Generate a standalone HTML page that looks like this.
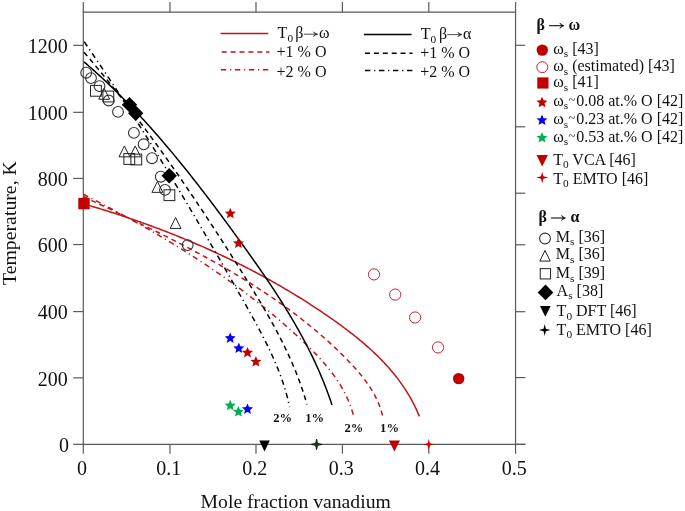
<!DOCTYPE html>
<html><head><meta charset="utf-8"><style>
html,body{margin:0;padding:0;background:#fff;}
svg{display:block;filter:blur(0.3px);}
text{font-family:"Liberation Serif",serif;fill:#111;}
.t19{font-size:20px;}
.t20{font-size:19.7px;}
.t20y{font-size:19.8px;}
.t15{font-size:16px;}
.b15{font-size:16px;font-weight:bold;}
.it{font-style:italic;}
.b12{font-size:12.6px;font-weight:bold;}
.sub{font-size:11.3px;}
</style></head><body>
<svg width="685" height="511" viewBox="0 0 685 511">
<path d="M83.3,12.15 H515.56 V444.33 H83.3 Z" fill="none" stroke="#5a5a5a" stroke-width="1.2"/>
<line x1="515.56" y1="444.33" x2="525.5" y2="444.33" stroke="#5a5a5a" stroke-width="1.2"/>
<line x1="83.30" y1="444.33" x2="83.30" y2="453.8" stroke="#5a5a5a" stroke-width="1.2"/>
<line x1="83.30" y1="12.15" x2="83.30" y2="2" stroke="#5a5a5a" stroke-width="1.2"/>
<line x1="169.96" y1="444.33" x2="169.96" y2="453.8" stroke="#5a5a5a" stroke-width="1.2"/>
<line x1="169.96" y1="12.15" x2="169.96" y2="2" stroke="#5a5a5a" stroke-width="1.2"/>
<line x1="255.99" y1="444.33" x2="255.99" y2="453.8" stroke="#5a5a5a" stroke-width="1.2"/>
<line x1="255.99" y1="12.15" x2="255.99" y2="2" stroke="#5a5a5a" stroke-width="1.2"/>
<line x1="342.39" y1="444.33" x2="342.39" y2="453.8" stroke="#5a5a5a" stroke-width="1.2"/>
<line x1="342.39" y1="12.15" x2="342.39" y2="2" stroke="#5a5a5a" stroke-width="1.2"/>
<line x1="428.80" y1="444.33" x2="428.80" y2="453.8" stroke="#5a5a5a" stroke-width="1.2"/>
<line x1="428.80" y1="12.15" x2="428.80" y2="2" stroke="#5a5a5a" stroke-width="1.2"/>
<line x1="515.56" y1="444.33" x2="515.56" y2="453.8" stroke="#5a5a5a" stroke-width="1.2"/>
<line x1="515.56" y1="12.15" x2="515.56" y2="2" stroke="#5a5a5a" stroke-width="1.2"/>
<line x1="73.2" y1="444.33" x2="83.3" y2="444.33" stroke="#5a5a5a" stroke-width="1.2"/>
<text x="69.0" y="451.9" text-anchor="end" class="t19">0</text>
<line x1="73.2" y1="377.86" x2="83.3" y2="377.86" stroke="#5a5a5a" stroke-width="1.2"/>
<text x="67.7" y="385.5" text-anchor="end" class="t19">200</text>
<line x1="73.2" y1="311.58" x2="83.3" y2="311.58" stroke="#5a5a5a" stroke-width="1.2"/>
<text x="67.7" y="319.2" text-anchor="end" class="t19">400</text>
<line x1="73.2" y1="244.56" x2="83.3" y2="244.56" stroke="#5a5a5a" stroke-width="1.2"/>
<text x="67.7" y="252.2" text-anchor="end" class="t19">600</text>
<line x1="73.2" y1="178.44" x2="83.3" y2="178.44" stroke="#5a5a5a" stroke-width="1.2"/>
<text x="67.7" y="186.0" text-anchor="end" class="t19">800</text>
<line x1="73.2" y1="112.33" x2="83.3" y2="112.33" stroke="#5a5a5a" stroke-width="1.2"/>
<text x="67.7" y="119.9" text-anchor="end" class="t19">1000</text>
<line x1="73.2" y1="45.33" x2="83.3" y2="45.33" stroke="#5a5a5a" stroke-width="1.2"/>
<text x="67.7" y="52.9" text-anchor="end" class="t19">1200</text>
<line x1="515.56" y1="45.3" x2="525.3" y2="45.3" stroke="#5a5a5a" stroke-width="1.2"/>
<line x1="515.56" y1="126.8" x2="525.3" y2="126.8" stroke="#5a5a5a" stroke-width="1.2"/>
<line x1="515.56" y1="193.2" x2="525.3" y2="193.2" stroke="#5a5a5a" stroke-width="1.2"/>
<line x1="515.56" y1="244.8" x2="525.3" y2="244.8" stroke="#5a5a5a" stroke-width="1.2"/>
<line x1="515.56" y1="311.7" x2="525.3" y2="311.7" stroke="#5a5a5a" stroke-width="1.2"/>
<line x1="515.56" y1="377.6" x2="525.3" y2="377.6" stroke="#5a5a5a" stroke-width="1.2"/>
<line x1="515.56" y1="444.33" x2="525.3" y2="444.33" stroke="#5a5a5a" stroke-width="1.2"/>
<text x="82.10" y="475.4" text-anchor="middle" class="t19">0</text>
<text x="168.76" y="475.4" text-anchor="middle" class="t19">0.1</text>
<text x="254.79" y="475.4" text-anchor="middle" class="t19">0.2</text>
<text x="341.19" y="475.4" text-anchor="middle" class="t19">0.3</text>
<text x="427.60" y="475.4" text-anchor="middle" class="t19">0.4</text>
<text x="514.36" y="475.4" text-anchor="middle" class="t19">0.5</text>
<text x="295.7" y="508" text-anchor="middle" class="t20">Mole fraction vanadium</text>
<text transform="translate(15.8,223.1) rotate(-90)" text-anchor="middle" class="t20y">Temperature, K</text>
<path d="M83.30,203.80 L85.10,204.32 L86.89,204.84 L88.69,205.37 L90.48,205.90 L92.27,206.43 L94.06,206.97 L95.85,207.51 L97.64,208.05 L99.43,208.59 L101.22,209.14 L103.00,209.69 L104.79,210.25 L106.57,210.81 L108.35,211.37 L110.13,211.93 L111.91,212.50 L113.69,213.07 L115.47,213.64 L117.24,214.22 L119.02,214.80 L120.79,215.39 L122.57,215.97 L124.34,216.56 L126.11,217.16 L127.87,217.75 L129.64,218.35 L131.41,218.96 L133.17,219.56 L134.94,220.17 L136.70,220.79 L138.46,221.41 L140.22,222.03 L141.98,222.65 L143.73,223.28 L145.49,223.91 L147.24,224.54 L149.00,225.18 L150.75,225.82 L152.50,226.46 L154.25,227.11 L155.99,227.76 L157.74,228.42 L159.48,229.07 L161.22,229.73 L162.97,230.40 L164.71,231.07 L166.44,231.74 L168.18,232.42 L169.92,233.09 L171.65,233.78 L173.38,234.46 L175.11,235.15 L176.84,235.85 L178.57,236.54 L180.29,237.24 L182.02,237.95 L183.74,238.65 L185.46,239.37 L187.18,240.08 L188.90,240.80 L190.62,241.52 L192.33,242.25 L194.05,242.98 L195.76,243.71 L197.47,244.45 L199.17,245.19 L200.88,245.93 L202.59,246.68 L204.29,247.43 L205.99,248.19 L207.69,248.95 L209.39,249.71 L211.08,250.47 L212.78,251.25 L214.47,252.02 L216.16,252.80 L217.85,253.58 L219.54,254.36 L221.22,255.15 L222.91,255.95 L224.59,256.74 L226.27,257.55 L227.95,258.35 L229.62,259.16 L231.30,259.97 L232.97,260.79 L234.64,261.61 L236.31,262.43 L237.98,263.26 L239.64,264.09 L241.31,264.93 L242.97,265.77 L244.63,266.61 L246.28,267.46 L247.94,268.31 L249.59,269.17 L251.24,270.03 L252.89,270.89 L254.54,271.76 L256.19,272.63 L257.83,273.51 L259.47,274.39 L261.11,275.28 L262.75,276.16 L264.38,277.06 L266.02,277.95 L267.65,278.85 L269.28,279.76 L270.91,280.67 L272.53,281.58 L274.15,282.50 L275.77,283.42 L277.39,284.34 L279.01,285.27 L280.62,286.21 L282.24,287.14 L283.85,288.09 L285.45,289.03 L287.06,289.98 L288.66,290.94 L290.26,291.90 L291.86,292.86 L293.46,293.83 L295.05,294.80 L296.65,295.78 L298.24,296.76 L299.82,297.74 L301.41,298.73 L302.99,299.72 L304.57,300.72 L306.15,301.72 L307.73,302.73 L309.30,303.74 L310.87,304.76 L312.44,305.78 L314.01,306.80 L315.58,307.83 L317.14,308.86 L318.70,309.90 L320.25,310.94 L321.81,311.98 L323.36,313.03 L324.91,314.09 L326.46,315.15 L328.01,316.21 L329.55,317.28 L331.09,318.35 L332.63,319.43 L334.16,320.51 L335.69,321.60 L337.22,322.69 L338.74,323.79 L340.26,324.90 L341.77,326.01 L343.28,327.12 L344.79,328.24 L346.28,329.37 L347.78,330.50 L349.27,331.64 L350.75,332.79 L352.23,333.94 L353.70,335.10 L355.16,336.26 L356.62,337.43 L358.07,338.61 L359.51,339.80 L360.94,340.99 L362.37,342.19 L363.79,343.40 L365.20,344.62 L366.60,345.84 L368.00,347.07 L369.38,348.31 L370.76,349.56 L372.12,350.82 L373.48,352.08 L374.83,353.36 L376.16,354.64 L377.49,355.93 L378.81,357.23 L380.11,358.54 L381.41,359.86 L382.69,361.19 L383.96,362.53 L385.22,363.87 L386.47,365.23 L387.70,366.60 L388.92,367.97 L390.13,369.36 L391.33,370.76 L392.51,372.17 L393.68,373.59 L394.84,375.01 L395.98,376.45 L397.11,377.91 L398.23,379.37 L399.33,380.84 L400.41,382.33 L401.48,383.82 L402.53,385.33 L403.57,386.85 L404.60,388.38 L405.60,389.92 L406.59,391.48 L407.57,393.05 L408.52,394.63 L409.46,396.22 L410.39,397.83 L411.29,399.44 L412.18,401.07 L413.05,402.72 L413.90,404.38 L414.74,406.05 L415.55,407.73 L416.35,409.43 L417.12,411.14 L417.88,412.87 L418.62,414.60 L419.34,416.36" fill="none" stroke="#c2121a" stroke-width="1.5"/>
<path d="M83.31,196.50 L84.83,197.22 L86.36,197.95 L87.89,198.68 L89.42,199.40 L90.96,200.13 L92.49,200.86 L94.03,201.59 L95.57,202.32 L97.10,203.05 L98.64,203.78 L100.18,204.51 L101.73,205.24 L103.27,205.97 L104.81,206.71 L106.36,207.44 L107.90,208.18 L109.45,208.91 L111.00,209.65 L112.55,210.39 L114.10,211.12 L115.65,211.86 L117.20,212.60 L118.75,213.34 L120.31,214.09 L121.86,214.83 L123.41,215.57 L124.97,216.32 L126.52,217.06 L128.08,217.81 L129.64,218.56 L131.19,219.31 L132.75,220.06 L134.31,220.81 L135.86,221.56 L137.42,222.32 L138.98,223.07 L140.54,223.83 L142.10,224.59 L143.66,225.35 L145.22,226.11 L146.77,226.87 L148.33,227.64 L149.89,228.40 L151.45,229.17 L153.01,229.94 L154.57,230.71 L156.13,231.48 L157.69,232.26 L159.24,233.03 L160.80,233.81 L162.36,234.59 L163.92,235.37 L165.47,236.15 L167.03,236.94 L168.59,237.72 L170.14,238.51 L171.70,239.30 L173.25,240.09 L174.81,240.89 L176.36,241.68 L177.91,242.48 L179.46,243.28 L181.01,244.08 L182.56,244.89 L184.11,245.69 L185.66,246.50 L187.21,247.31 L188.76,248.12 L190.30,248.94 L191.85,249.76 L193.39,250.57 L194.93,251.40 L196.48,252.22 L198.02,253.05 L199.55,253.88 L201.09,254.71 L202.63,255.54 L204.16,256.38 L205.70,257.22 L207.23,258.06 L208.76,258.90 L210.29,259.75 L211.82,260.60 L213.35,261.45 L214.87,262.30 L216.40,263.16 L217.92,264.02 L219.44,264.88 L220.96,265.75 L222.47,266.61 L223.99,267.49 L225.50,268.36 L227.01,269.24 L228.52,270.12 L230.03,271.00 L231.54,271.88 L233.04,272.77 L234.54,273.66 L236.04,274.56 L237.54,275.46 L239.03,276.36 L240.53,277.26 L242.02,278.17 L243.50,279.08 L244.99,279.99 L246.47,280.91 L247.96,281.83 L249.43,282.75 L250.91,283.68 L252.38,284.61 L253.86,285.54 L255.32,286.48 L256.79,287.42 L258.25,288.36 L259.72,289.31 L261.17,290.26 L262.63,291.22 L264.08,292.18 L265.53,293.14 L266.98,294.10 L268.42,295.07 L269.86,296.04 L271.30,297.02 L272.74,298.00 L274.17,298.98 L275.60,299.97 L277.02,300.96 L278.45,301.96 L279.87,302.96 L281.28,303.96 L282.70,304.97 L284.10,305.98 L285.51,307.00 L286.91,308.01 L288.31,309.04 L289.71,310.07 L291.10,311.10 L292.49,312.13 L293.88,313.17 L295.26,314.22 L296.64,315.26 L298.01,316.32 L299.38,317.37 L300.75,318.43 L302.11,319.50 L303.47,320.57 L304.83,321.64 L306.18,322.72 L307.53,323.80 L308.87,324.89 L310.21,325.98 L311.55,327.08 L312.88,328.18 L314.20,329.29 L315.53,330.40 L316.85,331.51 L318.16,332.63 L319.47,333.76 L320.78,334.88 L322.08,336.02 L323.38,337.16 L324.67,338.30 L325.96,339.45 L327.24,340.60 L328.52,341.76 L329.80,342.92 L331.07,344.09 L332.33,345.26 L333.60,346.44 L334.85,347.62 L336.10,348.81 L337.35,350.00 L338.59,351.20 L339.83,352.40 L341.06,353.61 L342.29,354.82 L343.51,356.04 L344.73,357.27 L345.94,358.50 L347.15,359.73 L348.35,360.97 L349.55,362.22 L350.73,363.47 L351.92,364.73 L353.09,365.99 L354.26,367.26 L355.41,368.54 L356.56,369.83 L357.69,371.12 L358.81,372.43 L359.92,373.74 L361.02,375.07 L362.10,376.40 L363.16,377.74 L364.21,379.09 L365.24,380.46 L366.26,381.84 L367.26,383.22 L368.23,384.62 L369.19,386.04 L370.13,387.46 L371.05,388.90 L371.94,390.35 L372.81,391.82 L373.66,393.30 L374.48,394.80 L375.27,396.31 L376.04,397.84 L376.79,399.38 L377.50,400.94 L378.19,402.51 L378.85,404.11 L379.48,405.72 L380.07,407.35 L380.64,408.99 L381.17,410.66 L381.67,412.34 L382.14,414.05 L382.57,415.77" fill="none" stroke="#c2121a" stroke-width="1.5" stroke-dasharray="5.0,3.9"/>
<path d="M83.31,194.27 L84.76,195.01 L86.20,195.74 L87.65,196.48 L89.09,197.22 L90.54,197.96 L91.98,198.70 L93.42,199.44 L94.86,200.18 L96.30,200.93 L97.74,201.68 L99.19,202.43 L100.62,203.18 L102.06,203.93 L103.50,204.68 L104.94,205.44 L106.38,206.19 L107.81,206.95 L109.25,207.71 L110.69,208.48 L112.12,209.24 L113.55,210.00 L114.99,210.77 L116.42,211.54 L117.85,212.31 L119.28,213.08 L120.71,213.86 L122.14,214.63 L123.57,215.41 L125.00,216.19 L126.43,216.97 L127.85,217.75 L129.28,218.54 L130.70,219.32 L132.12,220.11 L133.55,220.90 L134.97,221.69 L136.39,222.49 L137.81,223.28 L139.23,224.08 L140.65,224.88 L142.06,225.68 L143.48,226.48 L144.89,227.29 L146.31,228.10 L147.72,228.91 L149.13,229.72 L150.54,230.53 L151.95,231.34 L153.36,232.16 L154.77,232.98 L156.17,233.80 L157.58,234.63 L158.98,235.45 L160.38,236.28 L161.79,237.11 L163.19,237.94 L164.59,238.77 L165.98,239.61 L167.38,240.45 L168.78,241.29 L170.17,242.13 L171.56,242.97 L172.95,243.82 L174.34,244.67 L175.73,245.52 L177.12,246.37 L178.51,247.23 L179.89,248.09 L181.27,248.95 L182.66,249.81 L184.04,250.67 L185.42,251.54 L186.79,252.41 L188.17,253.28 L189.55,254.15 L190.92,255.03 L192.29,255.91 L193.66,256.79 L195.03,257.67 L196.40,258.56 L197.76,259.44 L199.13,260.33 L200.49,261.23 L201.85,262.12 L203.21,263.02 L204.57,263.92 L205.92,264.82 L207.28,265.73 L208.63,266.63 L209.98,267.54 L211.33,268.46 L212.68,269.37 L214.02,270.29 L215.37,271.21 L216.71,272.13 L218.05,273.06 L219.39,273.98 L220.73,274.91 L222.06,275.85 L223.40,276.78 L224.73,277.72 L226.06,278.66 L227.39,279.60 L228.71,280.55 L230.04,281.50 L231.36,282.45 L232.68,283.40 L234.00,284.36 L235.31,285.32 L236.63,286.28 L237.94,287.25 L239.25,288.22 L240.56,289.19 L241.87,290.16 L243.17,291.13 L244.47,292.11 L245.77,293.10 L247.07,294.08 L248.37,295.07 L249.66,296.06 L250.95,297.05 L252.24,298.05 L253.53,299.04 L254.82,300.05 L256.10,301.05 L257.38,302.06 L258.66,303.07 L259.94,304.08 L261.21,305.10 L262.48,306.12 L263.75,307.14 L265.02,308.17 L266.28,309.19 L267.55,310.22 L268.81,311.26 L270.07,312.30 L271.32,313.34 L272.58,314.38 L273.83,315.43 L275.08,316.48 L276.32,317.53 L277.57,318.58 L278.81,319.64 L280.05,320.71 L281.29,321.77 L282.52,322.84 L283.75,323.91 L284.98,324.99 L286.21,326.06 L287.43,327.14 L288.65,328.23 L289.87,329.32 L291.09,330.41 L292.30,331.50 L293.51,332.60 L294.72,333.70 L295.93,334.80 L297.13,335.91 L298.33,337.02 L299.53,338.13 L300.73,339.25 L301.92,340.37 L303.11,341.49 L304.30,342.62 L305.48,343.75 L306.66,344.89 L307.83,346.03 L309.00,347.17 L310.16,348.32 L311.32,349.48 L312.47,350.63 L313.61,351.80 L314.75,352.97 L315.88,354.14 L317.01,355.32 L318.12,356.51 L319.23,357.70 L320.33,358.90 L321.42,360.10 L322.50,361.31 L323.57,362.53 L324.63,363.75 L325.68,364.99 L326.72,366.22 L327.75,367.47 L328.77,368.72 L329.77,369.99 L330.77,371.26 L331.75,372.53 L332.71,373.82 L333.67,375.11 L334.61,376.41 L335.53,377.73 L336.45,379.05 L337.34,380.38 L338.22,381.71 L339.09,383.06 L339.94,384.42 L340.77,385.79 L341.59,387.17 L342.39,388.55 L343.18,389.95 L343.94,391.36 L344.69,392.78 L345.42,394.21 L346.13,395.65 L346.82,397.10 L347.49,398.57 L348.14,400.04 L348.77,401.53 L349.38,403.03 L349.97,404.54 L350.54,406.07 L351.09,407.60 L351.61,409.15 L352.11,410.71 L352.59,412.29 L353.05,413.87 L353.48,415.47" fill="none" stroke="#c2121a" stroke-width="1.5" stroke-dasharray="5.4,3.7,1.2,3.7"/>
<path d="M84.03,61.87 L85.52,63.15 L87.00,64.43 L88.47,65.71 L89.94,67.00 L91.40,68.30 L92.87,69.60 L94.32,70.90 L95.77,72.20 L97.22,73.51 L98.66,74.83 L100.10,76.15 L101.54,77.47 L102.97,78.80 L104.39,80.13 L105.81,81.46 L107.23,82.80 L108.64,84.15 L110.05,85.49 L111.46,86.84 L112.86,88.20 L114.25,89.56 L115.64,90.92 L117.03,92.29 L118.42,93.66 L119.80,95.03 L121.17,96.41 L122.55,97.79 L123.92,99.17 L125.28,100.56 L126.64,101.95 L128.00,103.34 L129.35,104.74 L130.70,106.14 L132.05,107.55 L133.39,108.96 L134.73,110.37 L136.07,111.79 L137.40,113.20 L138.73,114.63 L140.05,116.05 L141.37,117.48 L142.69,118.91 L144.01,120.35 L145.32,121.78 L146.62,123.22 L147.93,124.67 L149.23,126.11 L150.53,127.56 L151.82,129.02 L153.12,130.47 L154.41,131.93 L155.69,133.39 L156.97,134.86 L158.25,136.32 L159.53,137.79 L160.80,139.27 L162.07,140.74 L163.34,142.22 L164.61,143.70 L165.87,145.18 L167.13,146.67 L168.39,148.16 L169.64,149.65 L170.89,151.14 L172.14,152.64 L173.39,154.14 L174.63,155.64 L175.87,157.14 L177.11,158.65 L178.34,160.15 L179.58,161.66 L180.81,163.18 L182.03,164.69 L183.26,166.21 L184.48,167.73 L185.70,169.25 L186.92,170.77 L188.14,172.30 L189.35,173.82 L190.57,175.35 L191.78,176.88 L192.98,178.42 L194.19,179.95 L195.39,181.49 L196.60,183.03 L197.79,184.57 L198.99,186.11 L200.19,187.66 L201.38,189.20 L202.57,190.75 L203.76,192.30 L204.95,193.85 L206.14,195.40 L207.32,196.96 L208.51,198.51 L209.69,200.07 L210.87,201.63 L212.04,203.19 L213.22,204.75 L214.39,206.31 L215.57,207.88 L216.74,209.44 L217.91,211.01 L219.08,212.58 L220.25,214.15 L221.41,215.72 L222.58,217.29 L223.74,218.86 L224.90,220.44 L226.06,222.01 L227.22,223.59 L228.38,225.17 L229.54,226.74 L230.69,228.32 L231.85,229.90 L233.00,231.48 L234.15,233.07 L235.31,234.65 L236.46,236.23 L237.61,237.82 L238.76,239.40 L239.90,240.99 L241.05,242.58 L242.20,244.16 L243.34,245.75 L244.48,247.34 L245.63,248.93 L246.77,250.52 L247.90,252.12 L249.04,253.71 L250.18,255.31 L251.31,256.90 L252.44,258.50 L253.57,260.10 L254.70,261.70 L255.82,263.30 L256.94,264.90 L258.06,266.51 L259.18,268.11 L260.29,269.72 L261.40,271.33 L262.51,272.94 L263.62,274.55 L264.72,276.17 L265.82,277.78 L266.92,279.40 L268.01,281.02 L269.10,282.64 L270.18,284.26 L271.27,285.89 L272.35,287.52 L273.42,289.14 L274.49,290.78 L275.56,292.41 L276.62,294.04 L277.68,295.68 L278.74,297.32 L279.79,298.96 L280.83,300.61 L281.87,302.25 L282.91,303.90 L283.94,305.55 L284.97,307.21 L285.99,308.87 L287.01,310.52 L288.02,312.19 L289.03,313.85 L290.03,315.52 L291.03,317.19 L292.02,318.86 L293.00,320.54 L293.98,322.21 L294.96,323.89 L295.93,325.58 L296.89,327.27 L297.85,328.96 L298.80,330.65 L299.74,332.34 L300.68,334.04 L301.61,335.75 L302.54,337.45 L303.45,339.16 L304.37,340.87 L305.27,342.59 L306.17,344.31 L307.06,346.03 L307.95,347.76 L308.82,349.49 L309.69,351.22 L310.56,352.96 L311.41,354.70 L312.26,356.44 L313.10,358.19 L313.93,359.94 L314.76,361.69 L315.58,363.45 L316.39,365.21 L317.19,366.98 L317.98,368.75 L318.77,370.53 L319.54,372.30 L320.31,374.09 L321.07,375.87 L321.82,377.67 L322.56,379.46 L323.30,381.26 L324.02,383.06 L324.74,384.87 L325.45,386.68 L326.14,388.50 L326.83,390.32 L327.51,392.15 L328.18,393.98 L328.84,395.81 L329.49,397.65 L330.13,399.50 L330.76,401.35 L331.39,403.20 L332.00,405.06" fill="none" stroke="#000" stroke-width="1.5"/>
<path d="M84.03,52.28 L85.28,53.73 L86.52,55.19 L87.77,56.65 L89.01,58.10 L90.25,59.57 L91.48,61.03 L92.72,62.49 L93.95,63.96 L95.18,65.43 L96.40,66.90 L97.63,68.37 L98.85,69.84 L100.07,71.32 L101.29,72.80 L102.51,74.28 L103.72,75.76 L104.93,77.24 L106.14,78.72 L107.35,80.21 L108.55,81.70 L109.76,83.19 L110.96,84.68 L112.15,86.17 L113.35,87.66 L114.54,89.16 L115.74,90.66 L116.93,92.15 L118.11,93.66 L119.30,95.16 L120.48,96.66 L121.66,98.17 L122.84,99.67 L124.02,101.18 L125.20,102.69 L126.37,104.20 L127.54,105.72 L128.71,107.23 L129.88,108.75 L131.04,110.27 L132.21,111.78 L133.37,113.31 L134.53,114.83 L135.68,116.35 L136.84,117.88 L137.99,119.40 L139.14,120.93 L140.29,122.46 L141.44,123.99 L142.59,125.52 L143.73,127.06 L144.87,128.59 L146.02,130.13 L147.15,131.67 L148.29,133.21 L149.43,134.75 L150.56,136.29 L151.69,137.83 L152.82,139.38 L153.95,140.92 L155.07,142.47 L156.20,144.02 L157.32,145.57 L158.44,147.12 L159.56,148.68 L160.68,150.23 L161.79,151.78 L162.91,153.34 L164.02,154.90 L165.13,156.46 L166.24,158.02 L167.35,159.58 L168.45,161.14 L169.56,162.71 L170.66,164.27 L171.76,165.84 L172.86,167.41 L173.96,168.97 L175.05,170.54 L176.15,172.12 L177.24,173.69 L178.33,175.26 L179.42,176.84 L180.51,178.41 L181.60,179.99 L182.68,181.57 L183.77,183.15 L184.85,184.73 L185.93,186.31 L187.01,187.89 L188.09,189.47 L189.17,191.06 L190.24,192.64 L191.32,194.23 L192.39,195.82 L193.46,197.40 L194.53,198.99 L195.60,200.58 L196.66,202.18 L197.73,203.77 L198.79,205.36 L199.86,206.96 L200.92,208.55 L201.98,210.15 L203.04,211.75 L204.10,213.34 L205.15,214.94 L206.21,216.54 L207.26,218.14 L208.32,219.75 L209.37,221.35 L210.42,222.95 L211.47,224.56 L212.52,226.16 L213.56,227.77 L214.61,229.37 L215.65,230.98 L216.70,232.59 L217.74,234.20 L218.78,235.81 L219.82,237.42 L220.86,239.03 L221.90,240.65 L222.94,242.26 L223.97,243.87 L225.01,245.49 L226.04,247.10 L227.07,248.72 L228.10,250.34 L229.13,251.96 L230.16,253.57 L231.19,255.19 L232.22,256.81 L233.25,258.43 L234.27,260.06 L235.30,261.68 L236.32,263.30 L237.34,264.92 L238.37,266.55 L239.39,268.17 L240.41,269.80 L241.43,271.42 L242.44,273.05 L243.46,274.68 L244.48,276.30 L245.49,277.93 L246.51,279.56 L247.52,281.19 L248.53,282.82 L249.54,284.45 L250.55,286.09 L251.55,287.72 L252.55,289.36 L253.55,290.99 L254.55,292.63 L255.55,294.27 L256.54,295.91 L257.53,297.55 L258.52,299.19 L259.50,300.84 L260.48,302.48 L261.46,304.13 L262.43,305.78 L263.40,307.43 L264.36,309.09 L265.32,310.74 L266.28,312.40 L267.23,314.06 L268.18,315.72 L269.12,317.38 L270.06,319.05 L270.99,320.72 L271.92,322.39 L272.84,324.06 L273.76,325.73 L274.67,327.41 L275.58,329.09 L276.48,330.77 L277.37,332.46 L278.26,334.15 L279.14,335.84 L280.01,337.53 L280.88,339.23 L281.74,340.93 L282.60,342.63 L283.45,344.33 L284.29,346.04 L285.12,347.75 L285.94,349.47 L286.76,351.19 L287.57,352.91 L288.37,354.63 L289.17,356.36 L289.95,358.09 L290.73,359.83 L291.50,361.57 L292.26,363.31 L293.01,365.06 L293.75,366.81 L294.49,368.57 L295.21,370.32 L295.92,372.09 L296.63,373.85 L297.32,375.62 L298.01,377.40 L298.68,379.18 L299.35,380.96 L300.00,382.75 L300.65,384.54 L301.28,386.34 L301.90,388.14 L302.52,389.95 L303.12,391.76 L303.71,393.57 L304.29,395.39 L304.85,397.22 L305.41,399.05 L305.95,400.88 L306.48,402.72 L307.00,404.57" fill="none" stroke="#000" stroke-width="1.5" stroke-dasharray="5.0,3.9"/>
<path d="M84.22,41.78 L85.32,43.37 L86.41,44.95 L87.51,46.54 L88.60,48.12 L89.69,49.71 L90.78,51.30 L91.86,52.89 L92.95,54.48 L94.03,56.07 L95.11,57.66 L96.19,59.26 L97.27,60.85 L98.35,62.44 L99.42,64.04 L100.50,65.64 L101.57,67.23 L102.64,68.83 L103.71,70.43 L104.78,72.03 L105.85,73.63 L106.91,75.23 L107.97,76.83 L109.04,78.44 L110.10,80.04 L111.16,81.64 L112.22,83.25 L113.27,84.85 L114.33,86.46 L115.38,88.07 L116.43,89.68 L117.48,91.28 L118.53,92.89 L119.58,94.50 L120.63,96.12 L121.68,97.73 L122.72,99.34 L123.76,100.95 L124.81,102.57 L125.85,104.18 L126.89,105.80 L127.92,107.41 L128.96,109.03 L130.00,110.65 L131.03,112.27 L132.06,113.89 L133.10,115.51 L134.13,117.13 L135.16,118.75 L136.18,120.37 L137.21,121.99 L138.24,123.62 L139.26,125.24 L140.29,126.87 L141.31,128.49 L142.33,130.12 L143.35,131.74 L144.37,133.37 L145.39,135.00 L146.40,136.63 L147.42,138.26 L148.43,139.89 L149.45,141.52 L150.46,143.15 L151.47,144.78 L152.48,146.41 L153.49,148.05 L154.50,149.68 L155.51,151.31 L156.51,152.95 L157.52,154.59 L158.52,156.22 L159.53,157.86 L160.53,159.50 L161.53,161.13 L162.53,162.77 L163.53,164.41 L164.53,166.05 L165.53,167.69 L166.52,169.33 L167.52,170.97 L168.51,172.62 L169.51,174.26 L170.50,175.90 L171.49,177.55 L172.49,179.19 L173.48,180.83 L174.47,182.48 L175.46,184.13 L176.44,185.77 L177.43,187.42 L178.42,189.07 L179.40,190.72 L180.39,192.36 L181.37,194.01 L182.36,195.66 L183.34,197.31 L184.32,198.96 L185.30,200.61 L186.28,202.27 L187.26,203.92 L188.24,205.57 L189.22,207.22 L190.20,208.88 L191.17,210.53 L192.15,212.19 L193.13,213.84 L194.10,215.50 L195.07,217.15 L196.05,218.81 L197.02,220.47 L197.99,222.12 L198.97,223.78 L199.94,225.44 L200.91,227.10 L201.88,228.76 L202.85,230.42 L203.82,232.08 L204.78,233.74 L205.75,235.40 L206.72,237.06 L207.69,238.72 L208.65,240.38 L209.62,242.04 L210.58,243.71 L211.55,245.37 L212.51,247.03 L213.48,248.70 L214.44,250.36 L215.40,252.03 L216.37,253.69 L217.33,255.36 L218.29,257.02 L219.25,258.69 L220.21,260.36 L221.17,262.02 L222.13,263.69 L223.09,265.36 L224.05,267.03 L225.01,268.69 L225.97,270.36 L226.93,272.03 L227.89,273.70 L228.84,275.37 L229.80,277.04 L230.76,278.71 L231.71,280.38 L232.67,282.05 L233.63,283.72 L234.58,285.40 L235.54,287.07 L236.49,288.74 L237.45,290.41 L238.40,292.09 L239.36,293.76 L240.31,295.43 L241.27,297.11 L242.22,298.78 L243.18,300.45 L244.13,302.13 L245.08,303.80 L246.03,305.48 L246.98,307.16 L247.93,308.83 L248.87,310.51 L249.81,312.19 L250.75,313.87 L251.69,315.56 L252.62,317.24 L253.55,318.92 L254.48,320.61 L255.40,322.30 L256.32,323.99 L257.23,325.68 L258.14,327.37 L259.05,329.07 L259.95,330.77 L260.84,332.47 L261.73,334.17 L262.61,335.87 L263.49,337.58 L264.36,339.29 L265.22,341.00 L266.08,342.72 L266.93,344.43 L267.77,346.15 L268.60,347.88 L269.43,349.60 L270.24,351.33 L271.05,353.07 L271.85,354.80 L272.64,356.54 L273.43,358.29 L274.20,360.04 L274.96,361.79 L275.71,363.54 L276.45,365.30 L277.18,367.06 L277.90,368.83 L278.60,370.60 L279.29,372.38 L279.97,374.16 L280.64,375.95 L281.29,377.74 L281.93,379.54 L282.56,381.34 L283.17,383.15 L283.76,384.96 L284.34,386.78 L284.90,388.60 L285.45,390.43 L285.98,392.27 L286.49,394.11 L286.98,395.96 L287.46,397.81 L287.92,399.67 L288.36,401.54 L288.78,403.41 L289.18,405.30 L289.57,407.18" fill="none" stroke="#000" stroke-width="1.5" stroke-dasharray="5.4,3.7,1.2,3.7"/>
<circle cx="86.2" cy="72.7" r="5.4" fill="none" stroke="#333" stroke-width="1.1"/>
<circle cx="91" cy="78.1" r="5.4" fill="none" stroke="#333" stroke-width="1.1"/>
<circle cx="99.5" cy="86.1" r="5.4" fill="none" stroke="#333" stroke-width="1.1"/>
<circle cx="108.7" cy="100.5" r="5.4" fill="none" stroke="#333" stroke-width="1.1"/>
<circle cx="118" cy="111.9" r="5.4" fill="none" stroke="#333" stroke-width="1.1"/>
<circle cx="133.9" cy="132.9" r="5.4" fill="none" stroke="#333" stroke-width="1.1"/>
<circle cx="143.7" cy="144.3" r="5.4" fill="none" stroke="#333" stroke-width="1.1"/>
<circle cx="152" cy="158.2" r="5.4" fill="none" stroke="#333" stroke-width="1.1"/>
<circle cx="160.8" cy="176.7" r="5.4" fill="none" stroke="#333" stroke-width="1.1"/>
<circle cx="165.0" cy="189.9" r="5.4" fill="none" stroke="#333" stroke-width="1.1"/>
<circle cx="187.7" cy="245.1" r="5.4" fill="none" stroke="#333" stroke-width="1.1"/>
<polygon points="98.75,99.25 109.65,99.25 104.20,88.35" fill="none" stroke="#222" stroke-width="1"/>
<polygon points="118.95,156.85 129.85,156.85 124.40,145.95" fill="none" stroke="#222" stroke-width="1"/>
<polygon points="129.75,156.85 140.65,156.85 135.20,145.95" fill="none" stroke="#222" stroke-width="1"/>
<polygon points="151.95,192.35 162.85,192.35 157.40,181.45" fill="none" stroke="#222" stroke-width="1"/>
<polygon points="170.15,228.45 181.05,228.45 175.60,217.55" fill="none" stroke="#222" stroke-width="1"/>
<rect x="90.50" y="85.40" width="10.8" height="10.8" fill="none" stroke="#222" stroke-width="1"/>
<rect x="102.90" y="91.10" width="10.8" height="10.8" fill="none" stroke="#222" stroke-width="1"/>
<rect x="123.90" y="153.60" width="10.8" height="10.8" fill="none" stroke="#222" stroke-width="1"/>
<rect x="130.90" y="154.10" width="10.8" height="10.8" fill="none" stroke="#222" stroke-width="1"/>
<rect x="164.00" y="189.80" width="10.8" height="10.8" fill="none" stroke="#222" stroke-width="1"/>
<polygon points="129.5,97.0 137.2,104.7 129.5,112.4 121.8,104.7" fill="#000"/>
<polygon points="135.7,105.6 143.39999999999998,113.3 135.7,121.0 127.99999999999999,113.3" fill="#000"/>
<polygon points="169.2,168.0 176.89999999999998,175.7 169.2,183.39999999999998 161.5,175.7" fill="#000"/>
<rect x="78.30" y="197.90" width="11.4" height="11.4" fill="#c00000" stroke="#c00000" stroke-width="0"/>
<circle cx="374" cy="274.4" r="5.6" fill="none" stroke="#c8202c" stroke-width="1.0"/>
<circle cx="395.2" cy="294.6" r="5.6" fill="none" stroke="#c8202c" stroke-width="1.0"/>
<circle cx="415.1" cy="317.5" r="5.6" fill="none" stroke="#c8202c" stroke-width="1.0"/>
<circle cx="438" cy="347.4" r="5.6" fill="none" stroke="#c8202c" stroke-width="1.0"/>
<circle cx="458.7" cy="378.6" r="5.7" fill="#c00000" stroke="#c00000" stroke-width="0"/>
<polygon points="230.30,207.80 231.87,211.44 235.82,211.81 232.84,214.42 233.71,218.29 230.30,216.27 226.89,218.29 227.76,214.42 224.78,211.81 228.73,211.44" fill="#c00000"/>
<polygon points="238.40,237.50 239.97,241.14 243.92,241.51 240.94,244.12 241.81,247.99 238.40,245.97 234.99,247.99 235.86,244.12 232.88,241.51 236.83,241.14" fill="#c00000"/>
<polygon points="247.50,346.90 249.07,350.54 253.02,350.91 250.04,353.52 250.91,357.39 247.50,355.37 244.09,357.39 244.96,353.52 241.98,350.91 245.93,350.54" fill="#c00000"/>
<polygon points="255.90,356.00 257.47,359.64 261.42,360.01 258.44,362.62 259.31,366.49 255.90,364.47 252.49,366.49 253.36,362.62 250.38,360.01 254.33,359.64" fill="#c00000"/>
<polygon points="230.20,332.40 231.77,336.04 235.72,336.41 232.74,339.02 233.61,342.89 230.20,340.87 226.79,342.89 227.66,339.02 224.68,336.41 228.63,336.04" fill="#0000ff"/>
<polygon points="238.80,342.60 240.37,346.24 244.32,346.61 241.34,349.22 242.21,353.09 238.80,351.07 235.39,353.09 236.26,349.22 233.28,346.61 237.23,346.24" fill="#0000ff"/>
<polygon points="247.50,403.40 249.07,407.04 253.02,407.41 250.04,410.02 250.91,413.89 247.50,411.87 244.09,413.89 244.96,410.02 241.98,407.41 245.93,407.04" fill="#0000ff"/>
<polygon points="230.20,399.80 231.77,403.44 235.72,403.81 232.74,406.42 233.61,410.29 230.20,408.27 226.79,410.29 227.66,406.42 224.68,403.81 228.63,403.44" fill="#00b050"/>
<polygon points="238.40,406.00 239.97,409.64 243.92,410.01 240.94,412.62 241.81,416.49 238.40,414.47 234.99,416.49 235.86,412.62 232.88,410.01 236.83,409.64" fill="#00b050"/>
<polygon points="259.20,440.50 269.80,440.50 264.50,451.50" fill="#000" stroke="#000" stroke-width="0"/>
<polygon points="316.60,439.00 317.25,441.70 317.68,443.32 319.30,443.75 322.00,444.40 319.30,445.05 317.68,445.48 317.25,447.10 316.60,449.80 315.95,447.10 315.52,445.48 313.90,445.05 311.20,444.40 313.90,443.75 315.52,443.32 315.95,441.70" fill="#1e3d1e" stroke="#000" stroke-width="0.7"/>
<polygon points="388.80,440.40 400.00,440.40 394.40,451.60" fill="#c00000" stroke="#c00000" stroke-width="0"/>
<polygon points="428.80,438.80 429.47,441.60 429.92,443.28 431.60,443.73 434.40,444.40 431.60,445.07 429.92,445.52 429.47,447.20 428.80,450.00 428.13,447.20 427.68,445.52 426.00,445.07 423.20,444.40 426.00,443.73 427.68,443.28 428.13,441.60" fill="#c00000"/>
<text x="273.2" y="421.6" class="b12">2%</text>
<text x="305.2" y="421.6" class="b12">1%</text>
<text x="344.4" y="431.6" class="b12" fill="#c00000">2%</text>
<text x="380.1" y="431.6" class="b12" fill="#c00000">1%</text>
<line x1="220.6" y1="33.4" x2="268.3" y2="33.4" stroke="#c2121a" stroke-width="1.5"/>
<line x1="221.7" y1="52.0" x2="269.4" y2="52.0" stroke="#c2121a" stroke-width="1.5" stroke-dasharray="5.0,3.9"/>
<line x1="220.9" y1="69.7" x2="268.3" y2="69.7" stroke="#c2121a" stroke-width="1.5" stroke-dasharray="5.4,3.7,1.2,3.7"/>
<line x1="363.9" y1="34.4" x2="411.6" y2="34.4" stroke="#000" stroke-width="1.5"/>
<line x1="365" y1="53.3" x2="412.5" y2="53.3" stroke="#000" stroke-width="1.5" stroke-dasharray="5.0,3.9"/>
<line x1="365" y1="70.5" x2="412.5" y2="70.5" stroke="#000" stroke-width="1.5" stroke-dasharray="5.4,3.7,1.2,3.7"/>
<text x="277.6" y="38.4" class="t15">T<tspan class="sub" dy="3.8">0</tspan></text>
<text x="295.3" y="38.4" class="t15">β</text>
<line x1="303.8" y1="34.2" x2="317.20" y2="34.2" stroke="#222" stroke-width="0.8"/>
<path d="M313.40,31.90 Q315.82,33.62 317.8,34.2 Q315.82,34.78 313.40,36.50 L315.38,34.2 Z" fill="#222" stroke="#222" stroke-width="0.5" stroke-linejoin="round"/>
<text x="318.9" y="38.4" class="t15">ω</text>
<text x="276.6" y="57.4" class="t15">+1 % O</text>
<text x="276.6" y="77.0" class="t15">+2 % O</text>
<text x="420.7" y="38.8" class="t15">T<tspan class="sub" dy="3.8">0</tspan></text>
<text x="438.9" y="38.8" class="t15">β</text>
<line x1="447.3" y1="34.6" x2="461.50" y2="34.6" stroke="#222" stroke-width="0.8"/>
<path d="M457.70,32.30 Q460.12,34.02 462.1,34.6 Q460.12,35.18 457.70,36.90 L459.68,34.6 Z" fill="#222" stroke="#222" stroke-width="0.5" stroke-linejoin="round"/>
<text x="463.0" y="38.8" class="t15">α</text>
<text x="420.2" y="57.9" class="t15">+1 % O</text>
<text x="420.2" y="77.4" class="t15">+2 % O</text>
<text x="536.6" y="29.7" class="b15">β</text>
<line x1="549.1" y1="25.7" x2="563.40" y2="25.7" stroke="#111" stroke-width="1.1"/>
<path d="M559.80,23.00 Q562.11,25.02 564,25.7 Q562.11,26.38 559.80,28.40 L561.69,25.7 Z" fill="#111" stroke="#111" stroke-width="0.5" stroke-linejoin="round"/>
<text x="568.4" y="29.7" class="b15">ω</text>
<circle cx="542.3" cy="50.1" r="5.7" fill="#c00000" stroke="#c00000" stroke-width="0"/>
<text x="553.2" y="53.5" class="t15">ω<tspan class="sub" dy="3.4">s</tspan><tspan dy="-3.4"> [43]</tspan></text>
<circle cx="542.3" cy="67.2" r="5.5" fill="none" stroke="#c8202c" stroke-width="1.0"/>
<text x="553.2" y="71.1" class="t15">ω<tspan class="sub" dy="3.4">s</tspan><tspan dy="-3.4"> (estimated) [43]</tspan></text>
<rect x="537.30" y="77.40" width="11.2" height="11.2" fill="#c00000" stroke="#c00000" stroke-width="0"/>
<text x="553.2" y="87.2" class="t15">ω<tspan class="sub" dy="3.4">s</tspan><tspan dy="-3.4"> [41]</tspan></text>
<polygon points="542.00,96.70 543.57,100.34 547.52,100.71 544.54,103.32 545.41,107.19 542.00,105.17 538.59,107.19 539.46,103.32 536.48,100.71 540.43,100.34" fill="#c00000"/>
<text x="553.2" y="106" class="t15">ω<tspan class="sub" dy="3.4">s</tspan><tspan dy="-5.6" dx="0.3" style="font-size:12.5px">~</tspan><tspan dy="2.2" dx="1.0">0.08 at.% O [42]</tspan></text>
<polygon points="542.00,114.50 543.57,118.14 547.52,118.51 544.54,121.12 545.41,124.99 542.00,122.97 538.59,124.99 539.46,121.12 536.48,118.51 540.43,118.14" fill="#0000ff"/>
<text x="553.2" y="124.1" class="t15">ω<tspan class="sub" dy="3.4">s</tspan><tspan dy="-5.6" dx="0.3" style="font-size:12.5px">~</tspan><tspan dy="2.2" dx="1.0">0.23 at.% O [42]</tspan></text>
<polygon points="542.00,132.10 543.57,135.74 547.52,136.11 544.54,138.72 545.41,142.59 542.00,140.57 538.59,142.59 539.46,138.72 536.48,136.11 540.43,135.74" fill="#00b050"/>
<text x="553.2" y="141.7" class="t15">ω<tspan class="sub" dy="3.4">s</tspan><tspan dy="-5.6" dx="0.3" style="font-size:12.5px">~</tspan><tspan dy="2.2" dx="1.0">0.53 at.% O [42]</tspan></text>
<polygon points="536.50,155.00 547.90,155.00 542.20,166.40" fill="#c00000" stroke="#c00000" stroke-width="0"/>
<text x="553.2" y="165" class="t15">T<tspan class="sub" dy="3.4">0</tspan><tspan dy="-3.4"> VCA [46]</tspan></text>
<polygon points="542.20,171.50 542.92,174.50 543.40,176.30 545.20,176.78 548.20,177.50 545.20,178.22 543.40,178.70 542.92,180.50 542.20,183.50 541.48,180.50 541.00,178.70 539.20,178.22 536.20,177.50 539.20,176.78 541.00,176.30 541.48,174.50" fill="#c00000"/>
<text x="553.2" y="183.9" class="t15">T<tspan class="sub" dy="3.4">0</tspan><tspan dy="-3.4"> EMTO [46]</tspan></text>
<text x="538.4" y="221.8" class="b15">β</text>
<line x1="550.9" y1="218" x2="564.90" y2="218" stroke="#111" stroke-width="1.1"/>
<path d="M561.30,215.30 Q563.61,217.32 565.5,218 Q563.61,218.68 561.30,220.70 L563.19,218 Z" fill="#111" stroke="#111" stroke-width="0.5" stroke-linejoin="round"/>
<text x="570.6" y="221.8" class="b15">α</text>
<circle cx="545" cy="238.5" r="5.4" fill="none" stroke="#333" stroke-width="1.1"/>
<text x="555.8" y="241.8" class="t15">M<tspan class="sub" dy="3.4">s</tspan><tspan dy="-3.4"> [36]</tspan></text>
<polygon points="539.80,261.10 550.20,261.10 545.00,250.50" fill="none" stroke="#222" stroke-width="1"/>
<text x="555.8" y="259.2" class="t15">M<tspan class="sub" dy="3.4">s</tspan><tspan dy="-3.4"> [36]</tspan></text>
<rect x="540.25" y="268.65" width="10.3" height="10.3" fill="none" stroke="#222" stroke-width="1"/>
<text x="555.8" y="278.3" class="t15">M<tspan class="sub" dy="3.4">s</tspan><tspan dy="-3.4"> [39]</tspan></text>
<polygon points="545.5,284.59999999999997 553.3,292.4 545.5,300.2 537.7,292.4" fill="#000"/>
<text x="556.6" y="295.7" class="t15">A<tspan class="sub" dy="3.4">s</tspan><tspan dy="-3.4"> [38]</tspan></text>
<polygon points="540.00,305.90 550.60,305.90 545.30,316.70" fill="#000" stroke="#000" stroke-width="0"/>
<text x="556.6" y="316.4" class="t15">T<tspan class="sub" dy="3.4">0</tspan><tspan dy="-3.4"> DFT [46]</tspan></text>
<polygon points="544.70,324.10 545.41,327.05 545.88,328.82 547.65,329.29 550.60,330.00 547.65,330.71 545.88,331.18 545.41,332.95 544.70,335.90 543.99,332.95 543.52,331.18 541.75,330.71 538.80,330.00 541.75,329.29 543.52,328.82 543.99,327.05" fill="#000"/>
<text x="556.6" y="334.8" class="t15">T<tspan class="sub" dy="3.4">0</tspan><tspan dy="-3.4"> EMTO [46]</tspan></text>
</svg>
</body></html>
